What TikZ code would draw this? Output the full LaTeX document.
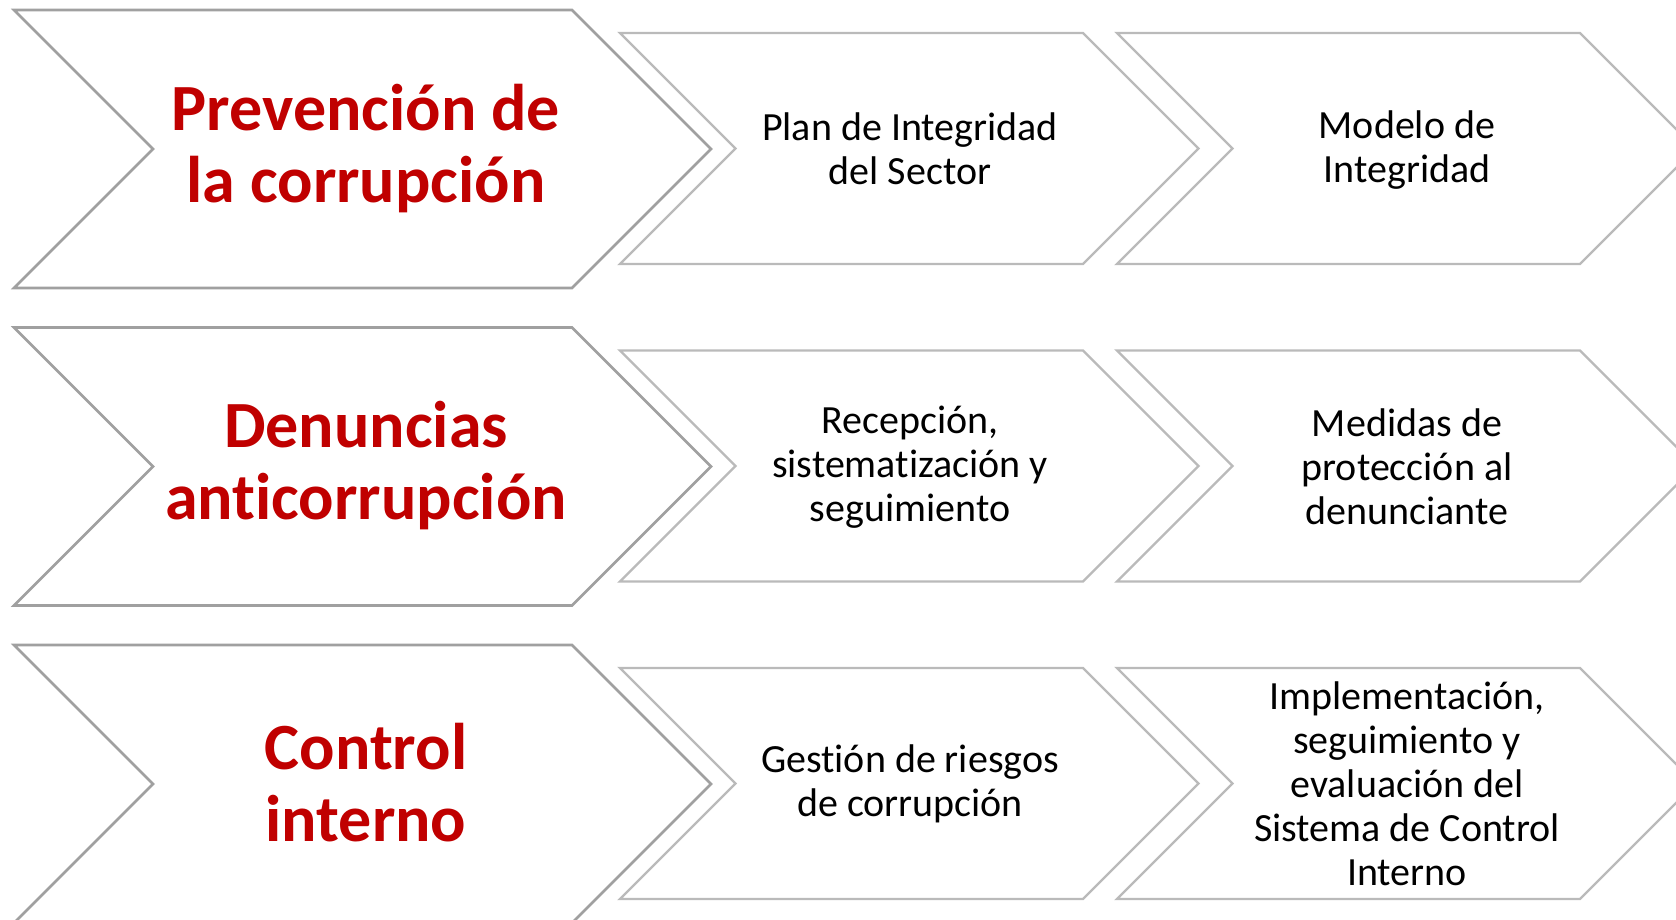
\documentclass[tikz,border=0pt]{standalone}
\usepackage{fontspec}
\setmainfont{Carlito}[Ligatures=NoCommon]
\definecolor{bigline}{HTML}{A0A0A0}
\definecolor{smallline}{HTML}{BABABA}
\definecolor{redtext}{HTML}{C00000}
\newcommand\mychev[5]{%
  \draw[#5] (#1,#2) -- ++(#3,0) -- ++(#4,#4) -- ++(-#4,#4) -- ++(-#3,0) -- ++(#4,-#4) -- cycle;}
\tikzset{
  bigchev/.style={draw=bigline, line width=2.6pt, line join=miter, fill=white},
  smallchev/.style={draw=smallline, line width=2.4pt, line join=miter, fill=white},
  bigtext/.style={text=redtext, font=\fontsize{66}{72}\selectfont\bfseries, align=center, inner sep=0pt},
  smalltext/.style={text=black, font=\fontsize{40}{44}\selectfont, align=center, inner sep=0pt}
}
\begin{document}
\begin{tikzpicture}[x=1pt,y=-1pt]
\useasboundingbox (0,0) rectangle (1676,919);
\fill[white] (0,0) rectangle (1676,919);
\clip (0,0) rectangle (1676,919);
% row 1
\mychev{14}{10}{558}{139}{bigchev}
\mychev{620}{33}{463}{115.5}{smallchev}
\mychev{1117}{33}{463}{115.5}{smallchev}
\node[bigtext] (t11) at (366,149) {Prevención de\\la corrupción};
\node[smalltext] (t12) at (910,149) {Plan de Integridad\\del Sector};
\node[smalltext] (t13) at (1407,150) {Modelo de\\Integridad};
% row 2
\mychev{14}{327.5}{558}{139}{bigchev}
\mychev{620}{350.5}{463}{115.5}{smallchev}
\mychev{1117}{350.5}{463}{115.5}{smallchev}
\node[bigtext] (t21) at (366,466) {Denuncias\\anticorrupción};
\node[smalltext] (t22) at (910,467) {Recepción,\\sistematización y\\seguimiento};
\node[smalltext] (t23) at (1407,467) {Medidas de\\protección al\\denunciante};
% row 3
\mychev{14}{645}{558}{139}{bigchev}
\mychev{620}{668}{463}{115.5}{smallchev}
\mychev{1117}{668}{463}{115.5}{smallchev}
\node[bigtext] (t31) at (366,783) {Control\\interno};
\node[smalltext] (t32) at (910,784) {Gestión de riesgos\\de corrupción};
\node[smalltext] (t33) at (1407,784) {Implementación,\\seguimiento y\\evaluación del\\Sistema de Control\\Interno};
\end{tikzpicture}
\end{document}
